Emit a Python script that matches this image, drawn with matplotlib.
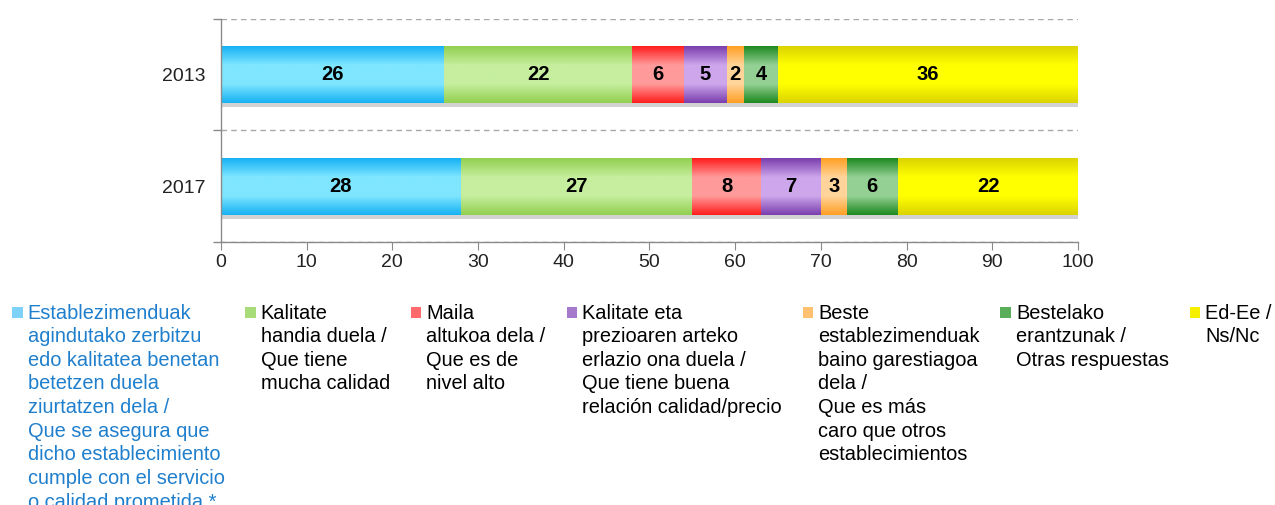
import numpy as np
import matplotlib
matplotlib.use("Agg")
import matplotlib.pyplot as plt
from matplotlib.colors import LinearSegmentedColormap
from matplotlib.legend_handler import HandlerPatch
from matplotlib.patches import Patch, Rectangle
import matplotlib.patheffects as pe

plt.rcParams['font.family'] = ['Liberation Sans', 'DejaVu Sans']

years = ["2013", "2017"]
labels = [
    "Establezimenduak\nagindutako zerbitzu\nedo kalitatea benetan\nbetetzen duela\nziurtatzen dela /\nQue se asegura que\ndicho establecimiento\ncumple con el servicio\no calidad prometida *",
    "Kalitate\nhandia duela /\nQue tiene\nmucha calidad",
    "Maila\naltukoa dela /\nQue es de\nnivel alto",
    "Kalitate eta\nprezioaren arteko\nerlazio ona duela /\nQue tiene buena\nrelación calidad/precio",
    "Beste\nestablezimenduak\nbaino garestiagoa\ndela /\nQue es más\ncaro que otros\nestablecimientos",
    "Bestelako\nerantzunak /\nOtras respuestas",
    "Ed-Ee /\nNs/Nc",
]
vals_2013 = [26, 22, 6, 5, 2, 4, 36]
vals_2017 = [28, 27, 8, 7, 3, 6, 22]

# edge colour / light colour of the shaded bars, flat colour for legend keys
dark = ["#17b2f4", "#92d050", "#ff1f1f", "#7b3fae", "#ffa024", "#1f8a22", "#dcd400"]
light = ["#7fe6ff", "#c6ee9e", "#ff9a9a", "#cda6ec", "#ffd49a", "#94d094", "#ffff00"]
legend_col = ["#7fd2f7", "#a8dc78", "#ff6a6a", "#a57acc", "#ffc070", "#5aae5a", "#f4f000"]

data = np.array([vals_2013, vals_2017])

fig = plt.figure(figsize=(12.75, 5.05), dpi=100)
ax = fig.add_axes([0.1733, 0.5208, 0.6722, 0.4416])

xmax = 100
ypos = np.array([0.5, 1.5])
left = np.zeros(2)
for i in range(len(labels)):
    bars = ax.barh(ypos, data[:, i], left=left, height=0.51, color=light[i],
                   zorder=2, linewidth=0)
    cmap = LinearSegmentedColormap.from_list("g%d" % i, [dark[i], light[i], light[i], dark[i]])
    grad = np.linspace(0, 1, 64).reshape(-1, 1)
    for b in bars:
        b.set_path_effects([pe.SimplePatchShadow(offset=(1, -3), shadow_rgbFace="#808080",
                                                 alpha=0.35), pe.Normal()])
        x0, y0 = b.get_x(), b.get_y()
        x1 = min(x0 + b.get_width(), xmax)
        im = ax.imshow(grad, cmap=cmap, aspect="auto", zorder=2.5,
                       extent=[x0, x1, y0 + b.get_height(), y0],
                       interpolation="bilinear")
        im.set_clip_path(b)
    ax.bar_label(bars, labels=[str(v) for v in data[:, i]], label_type="center",
                 fontsize=14.5, fontweight="bold", color="black", zorder=4)
    left += data[:, i]

ax.set_xlim(0, xmax)
ax.set_ylim(2, 0)
ax.set_xticks(np.arange(0, 101, 10))
ax.set_yticks(ypos)
ax.set_yticklabels(years)
ax.set_yticks([0, 1, 2], minor=True)
ax.tick_params(axis="y", which="major", length=0, pad=11, labelsize=14, labelcolor="#222222")
ax.tick_params(axis="y", which="minor", length=6, color="#8a8a8a", width=1)
ax.tick_params(axis="x", length=6, color="#8a8a8a", pad=3, labelsize=14, labelcolor="#222222")
ax.grid(axis="y", which="minor", linestyle=(0, (4, 3)), color="#a8a8a8", linewidth=1, zorder=0)
ax.set_axisbelow(True)
for s in ["top", "right"]:
    ax.spines[s].set_visible(False)
for s in ["left", "bottom"]:
    ax.spines[s].set_color("#8a8a8a")
    ax.spines[s].set_linewidth(1)


def square_low(legend, orig_handle, xdescent, ydescent, width, height, fontsize):
    return Rectangle((-xdescent, -ydescent), width, width)


handles = [Patch(facecolor=c, edgecolor="none") for c in legend_col]
leg = fig.legend(handles, labels, loc="upper left", bbox_to_anchor=(0.0095, 0.399),
                 ncol=7, frameon=False, fontsize=14.4, borderpad=0, borderaxespad=0,
                 handlelength=0.52, handleheight=0.72, handletextpad=0.25,
                 columnspacing=1.05,
                 handler_map={Patch: HandlerPatch(patch_func=square_low)})
leg._legend_handle_box.align = "top"
for col in leg._legend_handle_box.get_children():
    col.align = "left"
    for item in col.get_children():
        item.align = "top"
for t in leg.get_texts():
    t.set_linespacing(1.31)
leg.get_texts()[0].set_color("#1f7fcc")

fig.savefig("out.png", dpi=100)
